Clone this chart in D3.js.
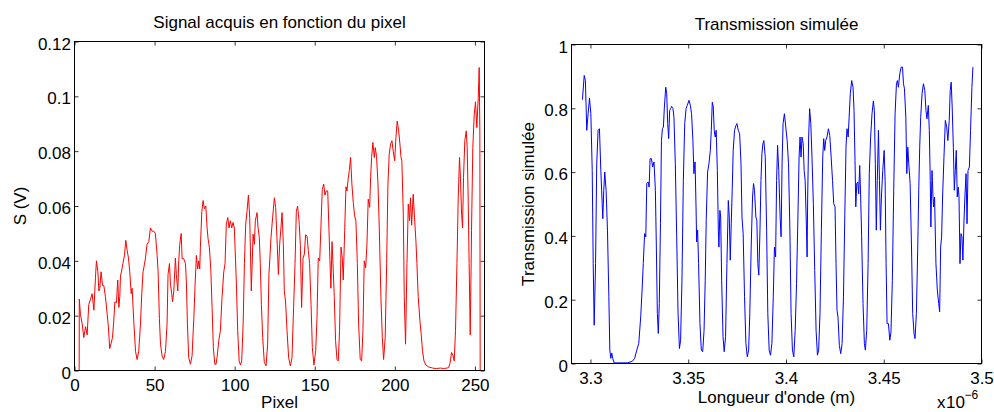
<!DOCTYPE html>
<html>
<head>
<meta charset="utf-8">
<script src="https://cdn.jsdelivr.net/npm/d3@7"></script>
<style>
	body { margin: 0; background: #fff; }
	svg text { font-family: "Liberation Sans", Arial, Helvetica, sans-serif; fill: #000; }
	.tick line { stroke: #000; stroke-width: 0.8; }
</style>
</head>
<body>
<div id="chart"></div>
<script>
// left panel : signal read on each pixel of the detector
var pixel = [0,2.9,3.0,3.7,4.8,5.8,6.9,7.9,8.9,10.0,11.0,12.1,13.1,13.7,14.6,15.2,15.8,16.6,17.5,18.3,19.3,20.4,21.0,22.0,22.9,23.7,24.5,25.2,26.2,27.0,27.7,28.3,28.7,29.3,30.2,31.2,32.0,32.9,33.7,34.5,35.4,36.0,37.0,38.1,39.1,40.1,41.2,42.0,42.8,43.7,44.3,45.3,46.4,47.4,48.5,49.5,50.5,51.6,52.2,53.0,53.7,54.7,55.7,56.8,57.8,58.4,59.3,59.9,60.7,61.2,62.0,63.0,63.6,64.5,65.1,65.7,66.6,67.2,68.2,69.3,69.9,70.5,71.3,72.4,73.4,74.5,75.3,76.1,76.9,77.6,78.2,78.6,79.5,80.3,81.1,82.0,82.8,83.4,84.2,85.1,85.9,86.7,87.6,88.4,89.0,90.1,91.1,92.1,93.2,94.0,94.8,95.7,96.5,97.3,98.2,99.0,99.8,100.5,101.1,101.9,102.8,103.6,104.4,105.3,106.1,106.9,107.7,108.6,109.4,110.4,111.5,112.3,112.9,114.0,114.6,115.4,116.0,116.7,117.5,118.5,119.6,120.6,121.4,122.7,123.7,124.8,125.6,126.4,127.3,128.1,128.9,129.6,130.4,131.0,131.8,132.7,133.7,134.8,135.8,136.8,137.7,138.5,139.3,140.2,141.0,141.8,142.7,143.5,144.3,145.2,146.0,146.8,147.7,148.5,149.5,150.6,151.4,152.2,153.1,153.9,154.7,155.6,156.4,157.2,158.1,158.9,159.5,160.1,160.8,161.4,162.2,163.0,163.9,164.7,165.5,166.4,167.2,167.8,168.7,169.5,170.1,170.9,171.6,172.4,173.2,174.1,174.9,175.7,176.6,177.4,178.4,179.3,180.1,180.9,181.8,182.6,183.4,184.3,184.9,185.5,186.3,187.2,187.8,188.6,189.5,190.3,191.3,192.2,193.0,194.0,194.9,195.7,196.5,197.4,198.2,199.0,199.9,200.7,201.5,202.4,203.2,203.8,204.4,205.3,205.9,206.7,207.6,208.4,209.2,209.8,210.5,211.5,212.3,213.2,213.8,214.6,215.7,216.5,217.3,218.2,219.4,221.1,223.5,226.0,228.5,230.4,232.5,233.6,234.6,235.4,236.3,237.1,237.9,238.8,239.6,240.4,241.0,241.7,242.3,242.9,243.7,244.6,245.2,245.8,246.4,247.1,247.9,248.7,249.6,250.4,251.2,252.1,252.7,253.1,253.3,256];
var signal = [0,0,0.026,0.0205,0.017,0.012,0.016,0.013,0.024,0.026,0.028,0.022,0.034,0.040,0.036,0.029,0.030,0.036,0.031,0.031,0.027,0.0205,0.017,0.008,0.010,0.012,0.018,0.025,0.0248,0.033,0.023,0.027,0.0345,0.036,0.039,0.042,0.0475,0.0437,0.041,0.036,0.028,0.030,0.018,0.007,0.004,0.007,0.017,0.028,0.036,0.0388,0.041,0.046,0.047,0.052,0.0508,0.0508,0.050,0.042,0.036,0.019,0.0096,0.0053,0.004,0.007,0.017,0.035,0.039,0.0315,0.028,0.025,0.029,0.041,0.035,0.029,0.040,0.046,0.050,0.0408,0.0408,0.039,0.0315,0.017,0.0047,0.0023,0.0053,0.019,0.0315,0.042,0.037,0.040,0.037,0.045,0.058,0.062,0.059,0.060,0.052,0.048,0.045,0.037,0.023,0.0084,0.0023,0.0023,0.0047,0.011,0.0145,0.0266,0.036,0.039,0.0534,0.0558,0.052,0.0546,0.052,0.054,0.052,0.041,0.0315,0.0145,0.0035,0.002,0.0035,0.017,0.039,0.0534,0.058,0.064,0.0558,0.029,0.0497,0.046,0.0546,0.0576,0.0522,0.0485,0.039,0.024,0.012,0.003,0.0017,0.0096,0.035,0.0485,0.0558,0.063,0.0595,0.0485,0.035,0.046,0.052,0.0576,0.046,0.029,0.025,0.0145,0.0047,0.0017,0.0047,0.023,0.039,0.058,0.060,0.0546,0.046,0.023,0.041,0.0424,0.0495,0.049,0.0437,0.039,0.024,0.0084,0.002,0.0072,0.019,0.041,0.040,0.053,0.066,0.068,0.064,0.0655,0.0655,0.051,0.040,0.030,0.047,0.039,0.027,0.011,0.004,0.0035,0.0145,0.045,0.041,0.033,0.051,0.067,0.0655,0.070,0.073,0.0777,0.068,0.061,0.0564,0.0546,0.039,0.017,0.004,0.0035,0.0145,0.040,0.0375,0.0461,0.0625,0.0595,0.0704,0.0777,0.0832,0.0777,0.0813,0.078,0.068,0.052,0.027,0.012,0.004,0.012,0.039,0.068,0.079,0.0826,0.0838,0.080,0.0765,0.085,0.091,0.0874,0.0826,0.078,0.0765,0.057,0.027,0.0096,0.039,0.0607,0.0546,0.063,0.053,0.0643,0.0558,0.047,0.039,0.027,0.018,0.013,0.007,0.0035,0.002,0.0013,0.0009,0.0007,0.0009,0.0007,0.0009,0.001,0.003,0.0066,0.0055,0.0035,0.0145,0.039,0.063,0.0777,0.070,0.057,0.052,0.0704,0.0838,0.0874,0.0813,0.063,0.039,0.013,0.051,0.0813,0.0935,0.098,0.0886,0.0996,0.1105,0.087,0,0];
var pixelTicks = [0, 50, 100, 150, 200, 250];
var signalTicks = [0, 0.02, 0.04, 0.06, 0.08, 0.1, 0.12];

// right panel : simulated transmission, wavelength in µm (axis carries the x 10^-6)
var wavelength = [3.2959,3.2968,3.2974,3.2981,3.2988,3.2995,3.3002,3.3009,3.3014,3.3019,3.3026,3.3032,3.3039,3.3046,3.3053,3.3060,3.3063,3.3068,3.3073,3.3080,3.3087,3.3094,3.3099,3.3104,3.3109,3.3114,3.3121,3.3155,3.3189,3.3214,3.3226,3.3237,3.3247,3.3257,3.3264,3.3270,3.3277,3.3283,3.3288,3.3295,3.3300,3.3305,3.3312,3.3318,3.3325,3.3332,3.3337,3.3342,3.3347,3.3352,3.3358,3.3363,3.3368,3.3373,3.3378,3.3385,3.3390,3.3395,3.3400,3.3405,3.3410,3.3415,3.3422,3.3427,3.3434,3.3441,3.3448,3.3455,3.3461,3.3468,3.3475,3.3482,3.3489,3.3495,3.3504,3.3511,3.3517,3.3524,3.3529,3.3535,3.3540,3.3543,3.3548,3.3553,3.3560,3.3567,3.3574,3.3581,3.3587,3.3592,3.3599,3.3606,3.3613,3.3618,3.3623,3.3628,3.3633,3.3638,3.3643,3.3649,3.3654,3.3657,3.3662,3.3666,3.3671,3.3678,3.3684,3.3691,3.3698,3.3705,3.3710,3.3715,3.3720,3.3725,3.3730,3.3737,3.3744,3.3749,3.3756,3.3763,3.3770,3.3775,3.3781,3.3788,3.3795,3.3802,3.3809,3.3815,3.3822,3.3829,3.3834,3.3839,3.3846,3.3851,3.3856,3.3861,3.3867,3.3872,3.3877,3.3882,3.3887,3.3894,3.3901,3.3907,3.3914,3.3921,3.3928,3.3935,3.3941,3.3947,3.3952,3.3957,3.3963,3.3970,3.3975,3.3980,3.3985,3.3992,3.3999,3.4006,3.4013,3.4020,3.4026,3.4033,3.4040,3.4047,3.4054,3.4061,3.4067,3.4072,3.4077,3.4082,3.4088,3.4093,3.4098,3.4105,3.4108,3.4111,3.4116,3.4121,3.4127,3.4133,3.4140,3.4147,3.4154,3.4161,3.4167,3.4174,3.4181,3.4188,3.4193,3.4198,3.4203,3.4210,3.4217,3.4224,3.4231,3.4238,3.4244,3.4251,3.4256,3.4261,3.4266,3.4273,3.4280,3.4287,3.4294,3.4301,3.4307,3.4312,3.4318,3.4323,3.4329,3.4336,3.4343,3.4348,3.4353,3.4357,3.4362,3.4367,3.4372,3.4377,3.4382,3.4387,3.4394,3.4401,3.4406,3.4413,3.4420,3.4426,3.4433,3.4440,3.4447,3.4452,3.4457,3.4462,3.4467,3.4473,3.4478,3.4483,3.4488,3.4495,3.4502,3.4507,3.4512,3.4517,3.4524,3.4531,3.4537,3.4544,3.4551,3.4558,3.4565,3.4570,3.4575,3.4582,3.4589,3.4596,3.4601,3.4606,3.4613,3.4618,3.4623,3.4628,3.4635,3.4642,3.4648,3.4655,3.4660,3.4667,3.4674,3.4679,3.4684,3.4689,3.4696,3.4703,3.4710,3.4716,3.4721,3.4728,3.4733,3.4738,3.4741,3.4747,3.4752,3.4755,3.4760,3.4767,3.4774,3.4781,3.4786,3.4791,3.4796,3.4801,3.4808,3.4815,3.4822,3.4828,3.4835,3.4840,3.4845,3.4850,3.4856,3.4861,3.4866,3.4871,3.4876,3.4881,3.4885,3.4890,3.4895,3.4900,3.4905,3.4910,3.4915,3.4921,3.4926,3.4931,3.4938,3.4944,3.4951,3.4956];
var transmission = [0.827,0.903,0.887,0.731,0.783,0.832,0.783,0.605,0.313,0.12,0.313,0.626,0.731,0.736,0.605,0.501,0.454,0.543,0.600,0.543,0.418,0.209,0.042,0.016,0.033,0.016,0.002,0.002,0.002,0.007,0.016,0.042,0.063,0.146,0.23,0.313,0.407,0.397,0.564,0.569,0.553,0.642,0.642,0.616,0.632,0.543,0.365,0.157,0.094,0.188,0.438,0.699,0.736,0.741,0.804,0.866,0.846,0.752,0.705,0.793,0.799,0.806,0.799,0.772,0.626,0.397,0.157,0.047,0.073,0.261,0.574,0.752,0.799,0.809,0.825,0.809,0.783,0.699,0.595,0.632,0.491,0.381,0.418,0.313,0.125,0.042,0.037,0.104,0.261,0.449,0.600,0.626,0.668,0.731,0.819,0.804,0.731,0.710,0.731,0.605,0.418,0.365,0.480,0.459,0.261,0.084,0.037,0.084,0.313,0.511,0.459,0.324,0.438,0.543,0.668,0.731,0.746,0.752,0.731,0.720,0.626,0.459,0.407,0.209,0.063,0.021,0.042,0.157,0.365,0.522,0.564,0.543,0.459,0.449,0.313,0.277,0.418,0.574,0.658,0.689,0.699,0.647,0.418,0.157,0.042,0.026,0.063,0.209,0.365,0.334,0.574,0.684,0.605,0.459,0.397,0.626,0.752,0.783,0.741,0.699,0.626,0.418,0.157,0.042,0.021,0.104,0.251,0.459,0.647,0.710,0.647,0.710,0.689,0.605,0.574,0.418,0.334,0.522,0.710,0.799,0.752,0.647,0.501,0.292,0.104,0.026,0.042,0.157,0.418,0.647,0.705,0.668,0.699,0.710,0.736,0.715,0.647,0.574,0.501,0.491,0.313,0.167,0.146,0.057,0.031,0.063,0.209,0.470,0.678,0.736,0.710,0.772,0.846,0.887,0.866,0.793,0.637,0.491,0.564,0.569,0.532,0.621,0.522,0.397,0.188,0.063,0.042,0.104,0.313,0.595,0.710,0.783,0.823,0.793,0.626,0.418,0.574,0.731,0.574,0.418,0.522,0.605,0.668,0.574,0.313,0.125,0.125,0.073,0.099,0.261,0.543,0.783,0.877,0.887,0.866,0.908,0.929,0.929,0.877,0.861,0.772,0.595,0.678,0.626,0.564,0.365,0.157,0.094,0.078,0.157,0.365,0.543,0.678,0.772,0.846,0.877,0.856,0.793,0.767,0.809,0.731,0.574,0.428,0.605,0.522,0.491,0.522,0.313,0.23,0.188,0.162,0.365,0.397,0.522,0.647,0.762,0.741,0.699,0.762,0.856,0.882,0.804,0.678,0.543,0.605,0.668,0.522,0.553,0.522,0.313,0.407,0.397,0.324,0.438,0.522,0.595,0.438,0.605,0.616,0.731,0.866,0.929];
var wavelengthTicks = [3.3, 3.35, 3.4, 3.45, 3.5];
var transmissionTicks = [0, 0.2, 0.4, 0.6, 0.8, 1];

var fmt = d3.format('~g');

var Panel = function(svg, cfg){ // box {left,right,top,bottom}, xs, ys, ticks, labels
	this.setup(svg, cfg);
};

Panel.prototype = {
	setup(svg, cfg){
		var b = cfg.box;
		this.x = d3.scaleLinear().domain(cfg.xDomain).range([b.left, b.right]);
		this.y = d3.scaleLinear().domain(cfg.yDomain).range([b.bottom, b.top]);
		var cx = (b.left + b.right) / 2,
			cy = (b.top + b.bottom) / 2;

		var g = svg.append('g');

		// ticks point inwards on all four sides, like the matlab box
		g.append('g')
			.attr('transform', 'translate(0,' + b.bottom + ')')
			.call(d3.axisBottom(this.x).tickValues(cfg.xTicks).tickFormat(fmt).tickSize(-4).tickPadding(8))
			.call(a => a.select('.domain').remove());
		g.append('g')
			.attr('transform', 'translate(0,' + b.top + ')')
			.call(d3.axisTop(this.x).tickValues(cfg.xTicks).tickFormat('').tickSize(-4))
			.call(a => a.select('.domain').remove());
		g.append('g')
			.attr('transform', 'translate(' + b.left + ',0)')
			.call(d3.axisLeft(this.y).tickValues(cfg.yTicks).tickFormat(fmt).tickSize(-4).tickPadding(3.5))
			.call(a => a.select('.domain').remove())
			.call(a => a.selectAll('text').attr('dy', '0.45em'));
		g.append('g')
			.attr('transform', 'translate(' + b.right + ',0)')
			.call(d3.axisRight(this.y).tickValues(cfg.yTicks).tickFormat('').tickSize(-4))
			.call(a => a.select('.domain').remove());

		g.selectAll('.tick text')
			.attr('font-family', null)
			.style('font-size', '17px');

		var xs = cfg.xs, ys = cfg.ys;
		g.append('path')
			.datum(d3.range(xs.length))
			.attr('fill', 'none')
			.attr('stroke', cfg.color)
			.attr('stroke-width', 1)
			.attr('stroke-linejoin', 'round')
			.attr('d', d3.line().x(i => this.x(xs[i])).y(i => this.y(ys[i])));

		g.append('rect')
			.attr('x', b.left)
			.attr('y', b.top)
			.attr('width', b.right - b.left)
			.attr('height', b.bottom - b.top)
			.attr('fill', 'none')
			.attr('stroke', '#000')
			.attr('stroke-width', 1);

		g.append('text')
			.attr('x', cx)
			.attr('y', cfg.titleY)
			.attr('text-anchor', 'middle')
			.style('font-size', '17px')
			.text(cfg.title);

		g.append('text')
			.attr('x', cx)
			.attr('y', cfg.xLabelY)
			.attr('text-anchor', 'middle')
			.style('font-size', '17px')
			.text(cfg.xLabel);

		g.append('text')
			.attr('transform', 'translate(' + cfg.yLabelX + ',' + cy + ') rotate(-90)')
			.attr('text-anchor', 'middle')
			.style('font-size', '17px')
			.text(cfg.yLabel);

		this.g = g;
	}
};

var svg = d3.select('#chart')
	.append('svg')
	.attr('width', 994)
	.attr('height', 412)
	.attr('xmlns', 'http://www.w3.org/2000/svg')
	.append('g')
	.attr('transform', 'translate(0.5,0.5)');

var left = new Panel(svg, {
	box: {left: 74, right: 484, top: 41, bottom: 370},
	xDomain: [0, 256], yDomain: [0, 0.12],
	xTicks: pixelTicks, yTicks: signalTicks,
	xs: pixel, ys: signal, color: '#ff0000',
	title: 'Signal acquis en fonction du pixel', titleY: 27,
	xLabel: 'Pixel', xLabelY: 407.5,
	yLabel: 'S (V)', yLabelX: 25
});

var right = new Panel(svg, {
	box: {left: 571, right: 981, top: 44, bottom: 363},
	xDomain: [3.2903, 3.5], yDomain: [0, 1],
	xTicks: wavelengthTicks, yTicks: transmissionTicks,
	xs: wavelength, ys: transmission, color: '#0000ff',
	title: 'Transmission simulée', titleY: 29.5,
	xLabel: 'Longueur d\'onde (m)', xLabelY: 402,
	yLabel: 'Transmission simulée', yLabelX: 533
});

// exponent of the wavelength axis
var ex = right.g.append('text').style('font-size', '17px').attr('y', 407.5);
ex.append('tspan').attr('x', 936.5).text('x');
ex.append('tspan').attr('x', 945.5).text('10');
right.g.append('text')
	.attr('x', 964)
	.attr('y', 398.5)
	.style('font-size', '12px')
	.text('\u22126');
</script>
</body>
</html>
